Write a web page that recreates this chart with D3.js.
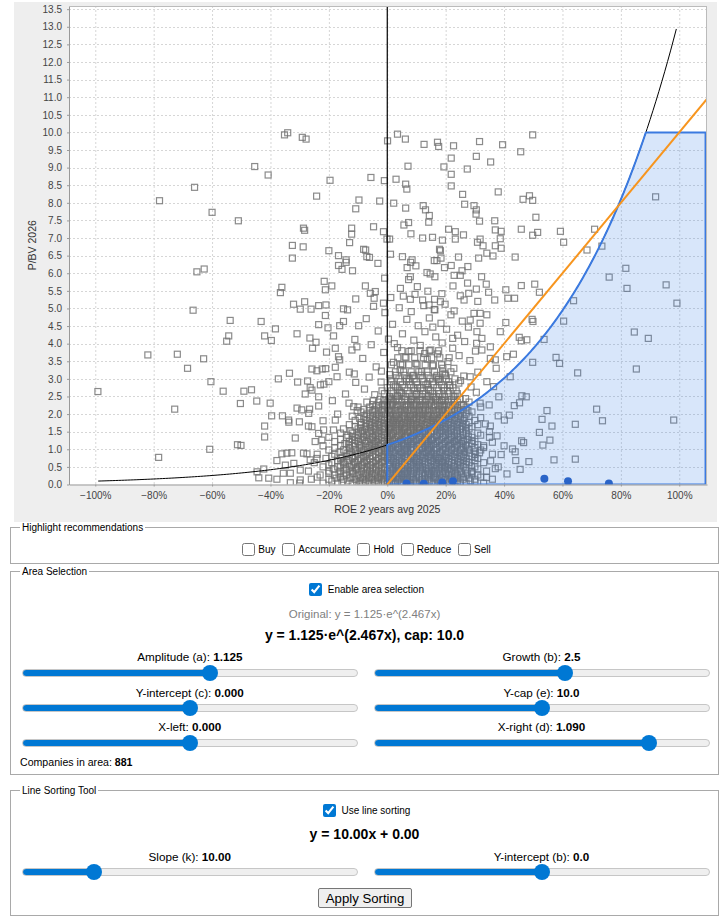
<!DOCTYPE html>
<html>
<head>
<meta charset="utf-8">
<script src="https://cdn.jsdelivr.net/npm/d3@7"></script>
<style>
body { margin: 0; width: 723px; height: 921px; position: relative; overflow: hidden; background: #fff;
       font-family: "Liberation Sans", Arial, sans-serif; color: #000; }
#chart { position: absolute; left: 14px; top: 2px; }
.box { position: absolute; left: 10px; width: 709px; }
.box fieldset { position: absolute; left: 0; top: 0; right: 0; bottom: 0; margin: 0; padding: 0 0 0 9px;
                border: 1px solid #a9a9a9; }
.box legend { font-size: 10px; line-height: 13px; padding: 0 2px; }
.row { position: absolute; left: 0; right: 0; text-align: center; white-space: nowrap; font-size: 10px; line-height: 16px; }
.row input[type=checkbox] { width: 13px; height: 13px; margin: 0 3px 0 4px; vertical-align: -3px; accent-color: #0078d4; }
.note { position: absolute; left: 0; right: 0; text-align: center; white-space: nowrap; }
.slabel { position: absolute; width: 336px; text-align: center; font-size: 11.7px; line-height: 14px; white-space: nowrap; }
input[type=range] { -webkit-appearance: none; appearance: none; position: absolute; width: 336px; height: 16px;
                    margin: 0; padding: 0; background: transparent; }
input[type=range]::-webkit-slider-runnable-track { box-sizing: border-box; height: 8px; border-radius: 4px;
  border: 1px solid #c6c6c6;
  background: linear-gradient(to right, #0078d4 0, #0078d4 var(--fill), #efefef var(--fill), #efefef 100%); }
input[type=range]::-webkit-slider-thumb { -webkit-appearance: none; width: 16px; height: 16px; border-radius: 50%;
  background: #0078d4; border: none; margin-top: -5px; }
button { position: absolute; font-family: "Liberation Sans", Arial, sans-serif; font-size: 13.2px; padding: 0;
         background: #efefef; border: 1px solid #767676; border-radius: 2px; color: #000; }
</style>
</head>
<body>
<div id="chart"></div>
<div class="box" id="recBox" style="top:521px;height:43px"><fieldset><legend>Highlight recommendations</legend></fieldset></div>
<div class="box" id="areaBox" style="top:565px;height:210px"><fieldset><legend>Area Selection</legend></fieldset></div>
<div class="box" id="lineBox" style="top:784px;height:132px"><fieldset><legend>Line Sorting Tool</legend></fieldset></div>
<script>
// ---- data (ROE 2y avg 2025, P/BV 2026) ----
const scatterSparse = [
  [-0.78,8.06],[-0.66,8.44],[-0.60,7.73],[-0.51,7.49],[-0.454,9.03],[-0.408,8.79],[-0.352,9.93],[-0.341,9.99],
  [-0.291,9.86],[-0.278,9.81],[-0.242,8.19],[-0.196,8.64],[-0.097,8.08],[-0.108,7.83],[-0.287,7.28],[-0.283,7.22],
  [-0.122,7.28],[-0.122,7.11],[-0.129,6.87],[-0.325,6.79],[-0.288,6.75],[-0.2,6.64],[-0.167,6.5],[-0.141,6.38],
  [-0.325,6.43],[-0.652,6.04],[-0.627,6.12],[-0.167,6.22],[-0.155,6.11],[-0.141,6.31],[-0.119,6.07],[-0.665,4.95],
  [-0.361,5.6],[-0.366,5.45],[-0.216,5.77],[-0.19,5.64],[-0.212,5.53],[-0.321,5.12],[-0.283,5.19],[-0.298,4.98],
  [-0.261,4.98],[-0.235,5.08],[-0.21,5.1],[-0.212,4.8],[-0.15,4.99],[-0.136,4.96],[-0.108,5.27],[-0.538,4.66],
  [-0.432,4.63],[-0.543,4.22],[-0.55,4.07],[-0.42,4.22],[-0.397,4.09],[-0.383,4.42],[-0.309,4.28],[-0.265,4.16],
  [-0.256,3.87],[-0.244,4.04],[-0.235,4.54],[-0.203,4.45],[-0.184,4.22],[-0.163,4.51],[-0.15,4.63],[-0.098,4.51],
  [-0.82,3.68],[-0.719,3.7],[-0.629,3.57],[-0.684,3.3],[-0.208,3.76],[-0.178,3.87],[-0.167,3.63],[-0.163,3.54],
  [-0.111,4.12],[-0.104,3.91],[-0.121,3.82],[-0.991,2.64],[-0.604,2.92],[-0.562,2.65],[-0.491,2.65],[-0.465,2.69],
  [-0.728,2.14],[-0.503,2.3],[-0.447,2.37],[-0.401,2.31],[-0.373,3.0],[-0.335,3.16],[-0.307,2.91],[-0.273,2.94],
  [-0.258,3.28],[-0.241,3.23],[-0.223,3.28],[-0.211,3.29],[-0.178,3.33],[-0.172,3.06],[-0.281,2.57],[-0.264,2.75],
  [-0.258,2.68],[-0.235,2.49],[-0.229,2.83],[-0.217,2.85],[-0.2,2.92],[-0.13,3.19],[-0.113,3.14],[-0.108,2.9],
  [-0.143,2.57],[-0.131,2.31],[-0.188,2.38],[-0.235,2.23],[-0.266,2.14],[-0.309,2.17],[-0.293,2.12],[-0.269,2.02],
  [-0.396,1.95],[-0.359,1.95],[-0.338,1.83],[-0.337,1.77],[-0.301,1.78],[-0.17,2.0],[-0.103,2.1],[-0.115,2.21],
  [-0.42,1.66],[-0.42,1.35],[-0.315,1.32],[-0.513,1.13],[-0.501,1.11],[-0.608,1.0],[-0.783,0.77],[-0.27,1.66],
  [-0.258,1.64],[-0.22,1.81],[-0.218,1.55],[-0.184,1.55],[-0.178,1.83],[-0.235,1.45],[-0.247,1.22],[-0.224,1.26],
  [-0.361,0.87],[-0.344,0.89],[-0.327,0.9],[-0.287,0.89],[-0.275,0.87],[-0.378,0.68],[-0.349,0.55],[-0.32,0.6],
  [-0.298,0.41],[-0.264,0.7],[-0.241,0.74],[-0.446,0.36],[-0.423,0.44],[-0.44,0.19],[-0.406,0.18],[-0.378,0.15],
  [-0.356,0.32],[-0.332,0.05],[-0.298,0.13],[-0.332,0.32]
];

const scatterUpper = [
  [-0.056,8.72],[-0.01,8.63],[0.001,9.76],[0.035,9.95],[0.062,9.81],[0.126,9.66],[0.172,9.72],[0.176,9.6],
  [0.227,9.62],[0.219,9.27],[0.194,9.02],[0.274,8.96],[0.071,9.04],[0.03,8.67],[0.063,8.53],[0.067,8.39],
  [0.219,8.81],[0.219,8.48],[0.258,8.24],[0.265,7.96],[-0.026,8.05],[0.022,7.99],[0.063,7.85],[0.123,7.92],
  [0.131,7.8],[0.144,7.64],[0.142,7.45],[-0.047,7.32],[-0.013,7.18],[-0.001,6.97],[0.008,6.97],[0.057,7.37],
  [0.073,7.44],[0.081,7.12],[0.121,7.0],[0.155,7.02],[0.189,6.94],[0.21,7.25],[0.233,7.18],[0.233,6.97],
  [-0.074,6.66],[-0.061,6.45],[-0.032,6.28],[-0.009,5.86],[0.011,6.54],[0.052,6.47],[0.068,6.16],[0.08,6.31],
  [0.098,6.21],[0.079,5.9],[0.073,5.82],[0.136,6.02],[0.147,5.98],[0.163,5.9],[0.161,6.36],[0.17,6.36],
  [0.179,6.68],[0.184,6.43],[0.196,6.16],[0.219,6.22],[0.229,5.94],[0.25,5.94],[0.244,6.46],[0.256,6.07],
  [0.276,6.19],[-0.075,5.64],[-0.058,5.43],[-0.041,5.48],[-0.045,5.29],[-0.013,5.15],[0.045,5.57],[0.055,5.35],
  [0.079,5.26],[0.103,5.62],[0.121,5.24],[0.139,5.49],[0.162,5.26],[0.182,5.19],[0.163,4.96],[0.225,5.64],
  [0.25,5.36],[0.263,5.24],[0.279,5.43],[0.229,4.93],[0.316,9.74],[0.395,9.65],[0.457,9.45],[0.498,9.93],
  [0.305,9.32],[0.354,9.16],[0.297,7.92],[0.305,7.8],[0.304,7.68],[0.316,7.48],[0.38,8.31],[0.465,8.1],
  [0.487,8.2],[0.498,8.07],[0.509,7.59],[0.459,7.25],[0.498,7.08],[0.515,7.16],[0.593,7.19],[0.604,6.88],
  [0.71,7.25],[0.735,6.77],[0.684,6.66],[0.919,8.17],[0.261,7.09],[0.368,7.49],[0.37,7.23],[0.39,7.19],
  [0.387,6.98],[0.37,6.78],[0.39,6.71],[0.318,6.97],[0.309,6.88],[0.328,6.78],[0.341,6.57],[0.438,6.46],
  [0.182,6.64],[0.313,6.43],[0.362,6.49],[-0.081,6.68],[-0.07,6.47],[0.085,6.38]
];

const scatterRight = [
  [0.817,6.14],[0.821,5.57],[0.76,5.89],[0.955,5.67],[0.992,5.15],[0.638,5.22],[0.604,4.64],[0.537,4.12],
  [0.498,3.47],[0.578,3.61],[0.59,3.44],[0.652,3.17],[0.846,4.33],[0.894,4.15],[0.853,3.28],[0.717,2.14],
  [0.737,1.81],[0.981,1.83],[0.547,2.1],[0.53,1.85],[0.564,1.66],[0.644,1.71],[0.521,1.48],[0.557,1.26],
  [0.533,1.12],[0.571,0.7],[0.644,0.72],[0.461,2.52],[0.476,2.49],[0.453,2.32],[0.435,2.24],[0.418,1.97],
  [0.401,1.83],[0.349,2.26],[0.336,1.72],[0.353,1.66],[0.376,1.38],[0.46,1.24],[0.467,1.19],[0.429,1.01],
  [0.438,0.93],[0.44,0.68],[0.455,0.43],[0.485,0.65],[0.354,0.67],[0.301,0.93],[0.316,0.9],[0.288,0.36],
  [0.406,5.53],[0.413,5.29],[0.436,5.29],[0.459,5.65],[0.505,5.69],[0.521,5.46],[0.496,4.69],[0.499,4.63],
  [0.452,4.18],[0.459,4.08],[0.478,4.11],[0.406,4.6],[0.432,3.7],[0.409,3.63],[0.373,3.3],[0.37,3.54],
  [0.421,3.06],[0.339,5.69],[0.347,5.46],[0.368,5.24],[0.305,5.55],[0.275,5.72],[0.323,5.9],[0.284,4.67],
  [0.307,4.34],[0.324,4.15],[0.353,3.91],[0.284,3.06],[0.341,2.92],[0.364,2.78],[0.382,2.49],[0.318,2.31],
  [0.318,4.86],[0.341,4.82],[0.318,4.58],[0.387,4.34],[0.306,4.01],[0.324,3.82],[0.353,3.58],[0.34,0.2],
  [0.37,0.45],[0.33,1.05],[0.36,1.2],[0.39,0.85],[0.35,1.5],[0.32,1.9],[0.38,1.95],[0.41,0.3],[0.4,1.1]
];

const coreUpper = [
  [0.012,2.45],[0.047,2.61],[0.083,2.42],[0.121,2.57],[0.158,2.48],[0.193,2.66],[0.232,2.51],[0.268,2.44],
  [0.305,2.62],[-0.043,2.55],[-0.078,2.71],[0.028,2.79],[0.066,2.93],[0.104,2.74],[0.139,2.86],[0.176,2.98],
  [0.214,2.81],[0.251,2.95],[0.287,2.77],[-0.021,2.91],[-0.062,3.05],[0.009,3.12],[0.044,3.26],[0.087,3.09],
  [0.118,3.21],[0.155,3.37],[0.197,3.14],[0.228,3.3],[0.262,3.08],[0.31,3.19],[-0.038,3.34],[0.021,3.47],
  [0.061,3.62],[0.098,3.44],[0.137,3.56],[0.172,3.71],[0.208,3.49],[0.246,3.66],[0.283,3.52],[-0.084,3.58],
  [-0.012,3.75],[0.035,3.89],[0.074,3.78],[0.113,3.95],[0.149,3.82],[0.188,4.02],[0.224,3.87],[0.265,4.06],
  [0.302,3.79],[-0.055,3.97],[0.004,4.13],[0.052,4.28],[0.091,4.1],[0.129,4.34],[0.166,4.19],[0.203,4.41],
  [0.241,4.24],[0.278,4.47],[-0.031,4.36],[0.018,4.55],[0.067,4.69],[0.106,4.51],[0.144,4.73],[0.184,4.58],
  [0.218,4.82],[0.257,4.64],[-0.072,4.71],[-0.008,4.88],[0.041,5.02],[0.082,4.91],[0.125,5.08],[0.161,4.97],
  [0.198,5.12],[0.297,4.86],[-0.047,5.06],[0.095,5.4],[0.012,5.31],[0.143,5.1],[0.187,5.42],[0.31,5.2],
  [0.035,2.52],[0.142,2.69],[0.186,2.39],[0.075,3.0],[0.168,3.05],[0.052,3.4],[0.19,3.3],[0.128,3.72],
  [0.024,4.0],[0.224,4.15],[0.156,4.47],[-0.02,3.22],[0.245,2.88],[0.101,2.55]
];

// dense core, one row per P/BV level: [pbv, [roe, ...]]
const coreRows = [
  [0.04, [-0.3,-0.22,-0.17,-0.12,-0.09,-0.06,-0.03,0.0,0.02,0.05,0.08,0.1,0.13,0.16,0.19,0.24,0.27,0.33]],
  [0.1,  [-0.19,-0.135,-0.095,-0.065,-0.035,-0.01,0.015,0.035,0.065,0.09,0.115,0.145,0.175,0.205,0.235,0.285]],
  [0.15, [-0.26,-0.2,-0.15,-0.11,-0.08,-0.05,-0.02,0.01,0.04,0.06,0.09,0.12,0.14,0.17,0.2,0.22,0.26,0.3,0.36]],
  [0.21, [-0.24,-0.16,-0.125,-0.085,-0.055,-0.025,0.005,0.03,0.055,0.085,0.11,0.14,0.165,0.195,0.23,0.26,0.32]],
  [0.27, [-0.23,-0.18,-0.14,-0.1,-0.07,-0.04,-0.01,0.02,0.05,0.07,0.1,0.13,0.15,0.18,0.21,0.24,0.27,0.31]],
  [0.32, [-0.2,-0.15,-0.115,-0.075,-0.045,-0.015,0.01,0.04,0.065,0.09,0.12,0.145,0.17,0.2,0.235,0.275]],
  [0.38, [-0.27,-0.2,-0.16,-0.12,-0.09,-0.06,-0.03,0.0,0.03,0.06,0.08,0.11,0.14,0.16,0.19,0.22,0.25,0.29,0.34]],
  [0.44, [-0.185,-0.14,-0.105,-0.08,-0.05,-0.02,0.01,0.035,0.055,0.085,0.115,0.135,0.165,0.195,0.215,0.245,0.31]],
  [0.5,  [-0.22,-0.17,-0.13,-0.1,-0.07,-0.04,-0.01,0.02,0.04,0.07,0.1,0.12,0.15,0.18,0.2,0.23,0.26,0.3,0.38]],
  [0.56, [-0.2,-0.145,-0.115,-0.085,-0.055,-0.025,0.005,0.03,0.05,0.08,0.105,0.13,0.16,0.185,0.21,0.24,0.27]],
  [0.62, [-0.25,-0.19,-0.15,-0.11,-0.08,-0.05,-0.02,0.01,0.03,0.06,0.09,0.11,0.14,0.17,0.19,0.22,0.25,0.28,0.33]],
  [0.68, [-0.17,-0.135,-0.1,-0.07,-0.04,-0.01,0.015,0.04,0.07,0.095,0.12,0.15,0.175,0.2,0.23,0.26,0.3]],
  [0.74, [-0.21,-0.16,-0.12,-0.09,-0.06,-0.03,0.0,0.02,0.05,0.08,0.1,0.13,0.16,0.18,0.21,0.24,0.27,0.31]],
  [0.8,  [-0.19,-0.14,-0.11,-0.075,-0.05,-0.02,0.005,0.035,0.06,0.085,0.115,0.14,0.165,0.195,0.225,0.255,0.29]],
  [0.86, [-0.24,-0.18,-0.13,-0.1,-0.07,-0.04,-0.01,0.01,0.04,0.07,0.09,0.12,0.15,0.17,0.2,0.23,0.26,0.3,0.36]],
  [0.92, [-0.165,-0.125,-0.09,-0.06,-0.03,-0.005,0.02,0.045,0.07,0.1,0.125,0.15,0.18,0.205,0.235,0.265]],
  [0.98, [-0.2,-0.15,-0.11,-0.08,-0.05,-0.02,0.0,0.03,0.06,0.08,0.11,0.14,0.16,0.19,0.22,0.25,0.28,0.32]],
  [1.04, [-0.18,-0.13,-0.095,-0.065,-0.04,-0.01,0.015,0.04,0.065,0.09,0.12,0.145,0.17,0.2,0.23,0.26,0.3]],
  [1.1,  [-0.22,-0.16,-0.12,-0.09,-0.06,-0.03,0.0,0.02,0.05,0.07,0.1,0.13,0.15,0.18,0.21,0.24,0.27,0.33]],
  [1.16, [-0.145,-0.11,-0.075,-0.045,-0.015,0.01,0.035,0.06,0.085,0.115,0.14,0.165,0.195,0.225,0.255,0.29]],
  [1.22, [-0.18,-0.13,-0.1,-0.07,-0.04,-0.01,0.01,0.04,0.07,0.09,0.12,0.14,0.17,0.2,0.23,0.26,0.3]],
  [1.28, [-0.16,-0.12,-0.085,-0.055,-0.03,0.0,0.025,0.05,0.08,0.105,0.13,0.155,0.185,0.215,0.245,0.275]],
  [1.34, [-0.2,-0.14,-0.11,-0.08,-0.05,-0.02,0.0,0.03,0.06,0.08,0.11,0.13,0.16,0.19,0.22,0.25,0.29,0.35]],
  [1.4,  [-0.135,-0.1,-0.07,-0.04,-0.01,0.015,0.04,0.065,0.09,0.115,0.14,0.17,0.2,0.23,0.26,0.32]],
  [1.46, [-0.16,-0.12,-0.09,-0.06,-0.03,0.0,0.02,0.05,0.07,0.1,0.12,0.15,0.18,0.21,0.24,0.27,0.31]],
  [1.52, [-0.125,-0.085,-0.055,-0.025,0.005,0.03,0.055,0.08,0.105,0.13,0.16,0.185,0.215,0.24,0.27]],
  [1.58, [-0.15,-0.1,-0.07,-0.04,-0.01,0.01,0.04,0.06,0.09,0.11,0.14,0.17,0.2,0.22,0.25,0.28]],
  [1.64, [-0.11,-0.075,-0.045,-0.015,0.015,0.04,0.065,0.09,0.115,0.145,0.17,0.195,0.225,0.255,0.29]],
  [1.7,  [-0.13,-0.09,-0.06,-0.03,0.0,0.03,0.05,0.08,0.1,0.13,0.16,0.18,0.21,0.24,0.27,0.31]],
  [1.76, [-0.09,-0.055,-0.025,0.005,0.03,0.055,0.08,0.105,0.135,0.16,0.185,0.215,0.245,0.28]],
  [1.82, [-0.11,-0.07,-0.04,-0.01,0.02,0.04,0.07,0.09,0.12,0.15,0.17,0.2,0.23,0.26,0.3]],
  [1.88, [-0.095,-0.06,-0.03,0.0,0.025,0.05,0.075,0.1,0.125,0.155,0.18,0.21,0.235,0.265]],
  [1.94, [-0.12,-0.08,-0.05,-0.02,0.01,0.03,0.06,0.08,0.11,0.14,0.16,0.19,0.22,0.25,0.28]],
  [2.0,  [-0.07,-0.035,-0.005,0.02,0.05,0.075,0.1,0.125,0.15,0.18,0.205,0.235,0.27]],
  [2.06, [-0.09,-0.05,-0.02,0.01,0.04,0.06,0.09,0.11,0.14,0.17,0.19,0.22,0.25,0.29]],
  [2.13, [-0.08,-0.045,-0.015,0.015,0.045,0.07,0.095,0.12,0.145,0.175,0.2,0.23,0.26]],
  [2.2,  [-0.1,-0.06,-0.03,0.0,0.03,0.06,0.08,0.11,0.13,0.16,0.19,0.21,0.24,0.27,0.32]],
  [2.27, [-0.05,-0.015,0.01,0.035,0.065,0.09,0.115,0.14,0.165,0.195,0.225,0.255]],
  [2.34, [-0.07,-0.03,0.0,0.02,0.05,0.08,0.1,0.13,0.15,0.18,0.21,0.24,0.28]],
  [2.42, [-0.025,0.005,0.03,0.06,0.085,0.11,0.135,0.165,0.19,0.22,0.25]],
  [2.58, [-0.01,0.02,0.05,0.075,0.1,0.13,0.155,0.18,0.21,0.24]],
  [2.75, [0.0,0.035,0.06,0.09,0.115,0.14,0.17,0.195,0.225]],
  [2.92, [0.015,0.045,0.075,0.1,0.125,0.155,0.18,0.21]],
  [3.1,  [0.03,0.06,0.09,0.115,0.14,0.17,0.2]]
];

// more of the core, in between the rows above
const coreRowsFill = [
  [0.07, [-0.155,-0.105,-0.075,-0.045,-0.018,0.007,0.027,0.047,0.072,0.097,0.122,0.152,0.182,0.212,0.25,0.3]],
  [0.18, [-0.175,-0.128,-0.092,-0.062,-0.033,-0.008,0.018,0.043,0.068,0.098,0.128,0.158,0.185,0.215,0.245,0.28]],
  [0.3,  [-0.165,-0.118,-0.082,-0.052,-0.022,0.006,0.033,0.058,0.082,0.108,0.137,0.162,0.19,0.222,0.255,0.29]],
  [0.41, [-0.145,-0.108,-0.068,-0.037,-0.008,0.017,0.044,0.07,0.094,0.122,0.152,0.176,0.206,0.232,0.268]],
  [0.53, [-0.16,-0.122,-0.088,-0.058,-0.028,0.008,0.038,0.062,0.088,0.112,0.142,0.168,0.196,0.226,0.252,0.288]],
  [0.65, [-0.148,-0.112,-0.078,-0.048,-0.016,0.022,0.048,0.078,0.102,0.128,0.156,0.186,0.212,0.244,0.272]],
  [0.77, [-0.155,-0.118,-0.082,-0.038,-0.012,0.012,0.042,0.066,0.092,0.124,0.148,0.174,0.202,0.232,0.262,0.3]],
  [0.89, [-0.138,-0.102,-0.066,-0.028,0.005,0.028,0.054,0.082,0.106,0.134,0.16,0.188,0.218,0.248,0.282]],
  [1.01, [-0.128,-0.088,-0.055,-0.026,0.008,0.036,0.058,0.084,0.112,0.138,0.166,0.194,0.222,0.254,0.276]],
  [1.13, [-0.132,-0.094,-0.052,-0.022,0.004,0.028,0.056,0.082,0.108,0.136,0.158,0.188,0.214,0.238,0.268,0.31]],
  [1.25, [-0.112,-0.078,-0.046,-0.016,0.018,0.046,0.072,0.098,0.128,0.152,0.178,0.208,0.236,0.262,0.29]],
  [1.37, [-0.118,-0.082,-0.052,-0.028,0.008,0.036,0.062,0.086,0.112,0.142,0.168,0.192,0.218,0.242,0.278]],
  [1.49, [-0.098,-0.066,-0.038,-0.012,0.014,0.042,0.068,0.094,0.122,0.148,0.172,0.198,0.228,0.258]],
  [1.61, [-0.092,-0.058,-0.028,0.004,0.028,0.054,0.078,0.104,0.128,0.156,0.182,0.208,0.238,0.268]],
  [1.73, [-0.072,-0.042,-0.012,0.016,0.042,0.066,0.092,0.118,0.146,0.172,0.198,0.228,0.258]],
  [1.85, [-0.08,-0.046,-0.018,0.012,0.036,0.062,0.088,0.112,0.138,0.166,0.194,0.222,0.252]],
  [1.97, [-0.058,-0.028,0.008,0.034,0.058,0.086,0.114,0.138,0.164,0.192,0.218,0.244]],
  [2.1,  [-0.062,-0.03,0.004,0.028,0.054,0.082,0.106,0.132,0.158,0.186,0.212,0.242,0.276]],
  [2.24, [-0.038,-0.008,0.018,0.044,0.072,0.098,0.124,0.152,0.178,0.204,0.232,0.262]],
  [2.38, [-0.048,-0.012,0.014,0.04,0.068,0.094,0.12,0.146,0.172,0.198,0.228]],
  [2.5,  [0.008,0.036,0.062,0.088,0.116,0.142,0.168,0.196,0.226]],
  [2.66, [-0.018,0.014,0.042,0.068,0.094,0.122,0.148,0.176,0.206,0.236]],
  [2.83, [0.022,0.052,0.078,0.104,0.132,0.158,0.186,0.214]],
  [3.0,  [0.012,0.04,0.066,0.092,0.12,0.146,0.174,0.202,0.232]],
  [3.2,  [0.028,0.056,0.082,0.108,0.136,0.162,0.19,0.218]],
  [3.4,  [0.014,0.046,0.074,0.102,0.13,0.158,0.186]],
  [3.6,  [0.036,0.064,0.094,0.124,0.152,0.18,0.212]],
  [3.8,  [0.05,0.082,0.112,0.144,0.176]]
];

// companies marked in the area (filled dots along the bottom)
const markedPoints = [[0.066,0.03],[0.125,0.02],[0.188,0.06],[0.225,0.09],[0.538,0.16],[0.619,0.09],[0.759,0.03]];

const roeTicks = [-1, -0.8, -0.6, -0.4, -0.2, 0, 0.2, 0.4, 0.6, 0.8, 1];
const pbvTicks = [0,0.5,1,1.5,2,2.5,3,3.5,4,4.5,5,5.5,6,6.5,7,7.5,8,8.5,9,9.5,10,10.5,11,11.5,12,12.5,13,13.5];

// fitted curve and the user settings shown in the panel
const fitA = 1.125, fitB = 2.467;
const areaA = 1.125, areaB = 2.467, areaC = 0, areaCap = 10, areaLeft = 0, areaRight = 1.09;
const lineK = 10, lineB = 0;
const companiesInArea = 881;

// ---- chart ----
const w = 703, h = 520;
const margin = { top: 4, right: 10, bottom: 37.5, left: 55 };

const svg = d3.select("#chart").append("svg").attr("width", w).attr("height", h);
svg.append("rect").attr("width", w).attr("height", h).attr("fill", "#eeeeee");

const x = d3.scaleLinear().domain([-1.09, 1.095]).range([margin.left, w - margin.right]);
const y = d3.scaleLinear().domain([0, 13.59]).range([h - margin.bottom, margin.top]);

svg.append("rect")
  .attr("x", margin.left).attr("y", margin.top)
  .attr("width", w - margin.left - margin.right).attr("height", h - margin.top - margin.bottom)
  .attr("fill", "#fff");

svg.append("clipPath").attr("id", "plot-clip").append("rect")
  .attr("x", margin.left).attr("y", margin.top)
  .attr("width", w - margin.left - margin.right).attr("height", h - margin.top - margin.bottom);

// grid
const grid = svg.append("g").attr("stroke", "#d6d6d6").attr("stroke-dasharray", "2,2").attr("stroke-width", 1);
grid.selectAll(".gx").data(roeTicks).join("line")
  .attr("x1", d => x(d) + 0.5).attr("x2", d => x(d) + 0.5)
  .attr("y1", margin.top).attr("y2", h - margin.bottom);
grid.selectAll(".gy").data(pbvTicks.slice(1)).join("line")
  .attr("x1", margin.left).attr("x2", w - margin.right)
  .attr("y1", d => Math.round(y(d)) + 0.5).attr("y2", d => Math.round(y(d)) + 0.5);

const plot = svg.append("g").attr("clip-path", "url(#plot-clip)");

// companies
const rowsToPoints = rows => rows.flatMap(([v, xs]) => xs.map(u => [u, v]));
const points = scatterSparse.concat(scatterUpper, scatterRight, coreUpper,
  rowsToPoints(coreRows), rowsToPoints(coreRowsFill));

plot.append("g")
  .attr("fill", "none").attr("stroke", "#6e6e6e").attr("stroke-opacity", 0.8).attr("stroke-width", 1.2)
  .selectAll("rect")
  .data(points)
  .join("rect")
    .attr("x", d => x(d[0]) - 3)
    .attr("y", d => y(d[1]) - 3)
    .attr("width", 6)
    .attr("height", 6);

// original fit, black
const line = d3.line().x(d => x(d[0])).y(d => y(d[1]));
const fitPts = d3.range(-0.99, 0.9901, 0.01).map(v => [v, fitA * Math.exp(fitB * v)]);
plot.append("path").attr("d", line(fitPts)).attr("fill", "none").attr("stroke", "#000").attr("stroke-width", 1);
plot.append("line").attr("x1", x(0)).attr("x2", x(0)).attr("y1", y(0)).attr("y2", margin.top)
  .attr("stroke", "#000").attr("stroke-width", 1.2);

// selected area
const areaTop = v => Math.min(areaA * Math.exp(areaB * v) + areaC, areaCap);
const areaPts = [[areaLeft, 0]]
  .concat(d3.range(areaLeft, areaRight, 0.005).map(v => [v, areaTop(v)]))
  .concat([[areaRight, areaTop(areaRight)], [areaRight, 0]]);
plot.append("path")
  .attr("d", line(areaPts) + "Z")
  .attr("fill", "rgb(60,130,232)").attr("fill-opacity", 0.2)
  .attr("stroke", "#3b7ae0").attr("stroke-width", 2).attr("stroke-linejoin", "round");

// sorting line, orange
plot.append("path")
  .attr("d", line([[-1.09, lineK * -1.09 + lineB], [1.095, lineK * 1.095 + lineB]]))
  .attr("stroke", "#f7951e").attr("stroke-width", 2).attr("fill", "none");

plot.append("g").attr("fill", "#2a64c8")
  .selectAll("circle").data(markedPoints).join("circle")
    .attr("cx", d => x(d[0])).attr("cy", d => y(d[1])).attr("r", 4);

// axes
function yAxis(g) {
  g.attr("transform", `translate(${margin.left}, 0)`)
    .call(d3.axisLeft(y).tickValues(pbvTicks).tickFormat(d3.format(".1f")).tickSize(2).tickSizeOuter(0).tickPadding(5))
    .attr("font-size", "10px").attr("font-family", "Liberation Sans, Arial, sans-serif");
  g.select(".domain").attr("stroke", "#999");
  g.selectAll(".tick line").attr("stroke", "#999");
  g.selectAll(".tick text").attr("fill", "#444");
}
function xAxis(g) {
  g.attr("transform", `translate(0, ${h - margin.bottom})`)
    .call(d3.axisBottom(x).tickValues(roeTicks).tickFormat(d3.format(".0%")).tickSize(2).tickSizeOuter(0).tickPadding(5))
    .attr("font-size", "10px").attr("font-family", "Liberation Sans, Arial, sans-serif");
  g.select(".domain").attr("stroke", "#999");
  g.selectAll(".tick line").attr("stroke", "#999");
  g.selectAll(".tick text").attr("fill", "#444");
}
svg.append("g").call(yAxis);
svg.append("g").call(xAxis);

svg.append("line").attr("x1", margin.left).attr("x2", w - margin.right)
  .attr("y1", margin.top + 0.5).attr("y2", margin.top + 0.5).attr("stroke", "#bbb");
svg.append("line").attr("x1", w - margin.right - 0.5).attr("x2", w - margin.right - 0.5)
  .attr("y1", margin.top).attr("y2", h - margin.bottom).attr("stroke", "#bbb");

svg.append("text").attr("x", x(0.0)).attr("y", 511)
  .attr("text-anchor", "middle").attr("font-size", "10.5px").attr("fill", "#333")
  .attr("font-family", "Liberation Sans, Arial, sans-serif")
  .text("ROE 2 years avg 2025");
svg.append("text")
  .attr("transform", `translate(22, ${(margin.top + h - margin.bottom) / 2}) rotate(-90)`)
  .attr("text-anchor", "middle").attr("font-size", "10.5px").attr("fill", "#333")
  .attr("font-family", "Liberation Sans, Arial, sans-serif")
  .text("P/BV 2026");

// ---- controls ----
const recs = ["Buy", "Accumulate", "Hold", "Reduce", "Sell"];
const recRow = d3.select("#recBox").append("div").attr("class", "row").style("top", "21px");
recs.forEach((r, i) => {
  const lab = recRow.append("label");
  lab.append("input").attr("type", "checkbox");
  lab.append("span").text(r);
  if (i < recs.length - 1) recRow.append("span").text(" ");
});

const areaBox = d3.select("#areaBox");
const en = areaBox.append("div").attr("class", "row").style("top", "17px").append("label");
en.append("input").attr("type", "checkbox").property("checked", true);
en.append("span").text(" Enable area selection");
areaBox.append("div").attr("class", "note").style("top", "42px")
  .style("font-size", "11.5px").style("line-height", "14px").style("color", "#808080")
  .text(`Original: y = ${fitA.toFixed(3)}·e^(${fitB}x)`);
areaBox.append("div").attr("class", "note").style("top", "61px")
  .style("font-size", "14px").style("line-height", "18px").style("font-weight", "bold")
  .text(`y = ${areaA.toFixed(3)}·e^(${areaB}x), cap: ${areaCap.toFixed(1)}`);

const colLeft = [11.8, 363.5];
const areaSliders = [
  { label: "Amplitude (a)", min: 0, max: 2, value: areaA, fmt: ".3f", col: 0, lt: 85, st: 99.5 },
  { label: "Growth (b)", min: 1, max: 3.55, value: areaB, fmt: ".1f", col: 1, lt: 85, st: 99.5 },
  { label: "Y-intercept (c)", min: -2, max: 2, value: areaC, fmt: ".3f", col: 0, lt: 120.7, st: 135 },
  { label: "Y-cap (e)", min: 0, max: 20, value: areaCap, fmt: ".1f", col: 1, lt: 120.7, st: 135 },
  { label: "X-left", min: -1, max: 1, value: areaLeft, fmt: ".3f", col: 0, lt: 155.3, st: 170.3 },
  { label: "X-right (d)", min: 0, max: 1.3, value: areaRight, fmt: ".3f", col: 1, lt: 155.3, st: 170.3 }
];
const lineSliders = [
  { label: "Slope (k)", min: 0, max: 50, value: lineK, fmt: ".2f", col: 0, lt: 65.7, st: 80 },
  { label: "Y-intercept (b)", min: -5, max: 5, value: lineB, fmt: ".1f", col: 1, lt: 65.7, st: 80 }
];

function addSlider(box, s) {
  const left = colLeft[s.col];
  box.append("div").attr("class", "slabel")
    .style("left", left + "px").style("top", s.lt + "px")
    .html(`${s.label}: <b>${d3.format(s.fmt)(s.value)}</b>`);
  const frac = (s.value - s.min) / (s.max - s.min);
  box.append("input").attr("type", "range")
    .attr("min", s.min).attr("max", s.max).attr("step", "any")
    .property("value", s.value)
    .style("left", left + "px").style("top", s.st + "px")
    .style("--fill", (8 + frac * 318) + "px");
}
areaSliders.forEach(s => addSlider(areaBox, s));

areaBox.append("div").style("position", "absolute").style("left", "10px").style("top", "190px")
  .style("font-size", "10.6px").style("line-height", "14px")
  .html(`Companies in area: <b>${companiesInArea}</b>`);

const lineBox = d3.select("#lineBox");
const ls = lineBox.append("div").attr("class", "row").style("top", "18.7px").append("label");
ls.append("input").attr("type", "checkbox").property("checked", true);
ls.append("span").text(" Use line sorting");
lineBox.append("div").attr("class", "note").style("top", "41.3px")
  .style("font-size", "14px").style("line-height", "18px").style("font-weight", "bold")
  .text(`y = ${lineK.toFixed(2)}x + ${lineB.toFixed(2)}`);
lineSliders.forEach(s => addSlider(lineBox, s));
lineBox.append("button").text("Apply Sorting")
  .style("left", "308px").style("top", "104.3px").style("width", "94px").style("height", "20px");
</script>
</body>
</html>
